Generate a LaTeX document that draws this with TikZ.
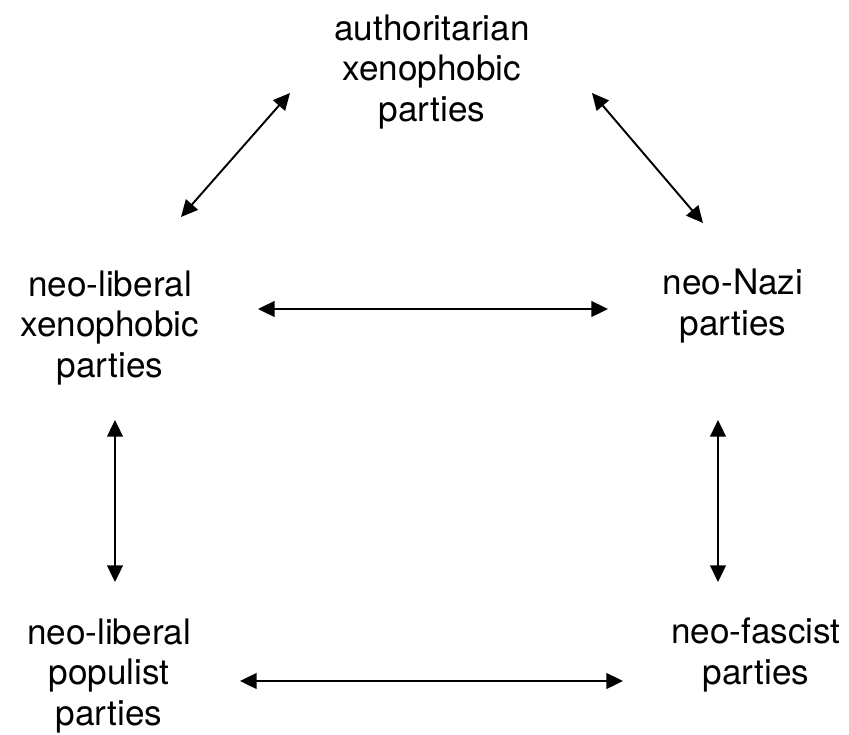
\documentclass[tikz,border=0pt]{standalone}
\usepackage{fontspec}
\setmainfont{TeX Gyre Heros}
\usetikzlibrary{arrows.meta}
\begin{document}
\begin{tikzpicture}[x=0.02cm,y=-0.02cm,
  party/.style={align=center,font=\fontsize{20}{23.2}\selectfont,inner sep=0pt},
  link/.style={line width=1.1pt,{Triangle[length=9.5pt,width=9pt]}-{Triangle[length=9.5pt,width=9pt]}}]
  \useasboundingbox (0,0) rectangle (849,734);
  % party families
  \node[party] (auth) at (432,72)  {authoritarian\\xenophobic\\parties};
  \node[party] (nlx)  at (110,328) {neo-liberal\\xenophobic\\parties};
  \node[party] (nazi) at (733,306) {neo-Nazi\\parties};
  \node[party] (nlp)  at (109,676) {neo-liberal\\populist\\parties};
  \node[party] (fasc) at (756,655) {neo-fascist\\parties};
  % arrow end points
  \coordinate (auth-sw) at (290,93);
  \coordinate (nlx-ne)  at (181,217);
  \coordinate (auth-se) at (592,93);
  \coordinate (nazi-nw) at (703,223);
  \coordinate (nlx-e)   at (258,309);
  \coordinate (nazi-w)  at (608,309);
  \coordinate (nlx-s)   at (115,420);
  \coordinate (nlp-n)   at (115,582);
  \coordinate (nazi-s)  at (718,420);
  \coordinate (fasc-n)  at (718,582);
  \coordinate (nlp-e)   at (240,681);
  \coordinate (fasc-w)  at (623,681);
  % relations
  \draw[link] (auth-sw) -- (nlx-ne);
  \draw[link] (auth-se) -- (nazi-nw);
  \draw[link] (nlx-e) -- (nazi-w);
  \draw[link] (nlx-s) -- (nlp-n);
  \draw[link] (nazi-s) -- (fasc-n);
  \draw[link] (nlp-e) -- (fasc-w);
\end{tikzpicture}
\end{document}
